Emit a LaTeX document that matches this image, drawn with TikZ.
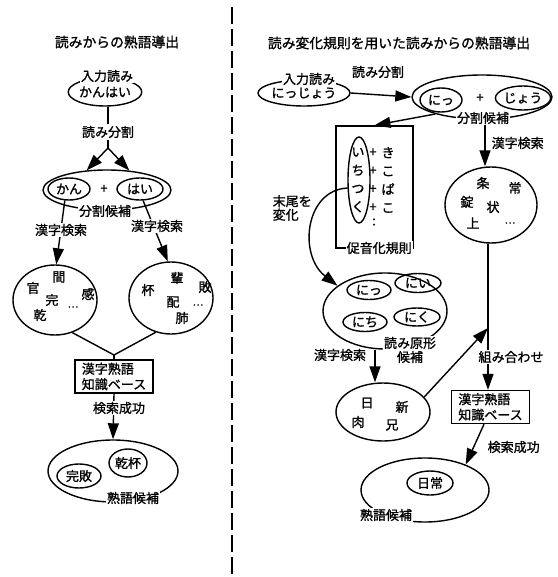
\documentclass[tikz,border=0pt]{standalone}
\usepackage{fontspec}
\newfontfamily\jp[FakeBold=1.2]{Noto Sans CJK JP}
\usetikzlibrary{shapes.geometric,arrows.meta}
\begin{document}
\begin{tikzpicture}[x=1pt,y=-1pt,line width=1.4pt,
  every node/.style={font=\jp\fontsize{13}{15}\selectfont, inner sep=1pt},
  ell/.style={draw, ellipse, inner sep=0pt},
  lbl/.style={fill=white, inner sep=1pt},
  ttl/.style={font=\jp\fontsize{13.8}{15}\selectfont},
  dotsty/.style={font=\jp\fontsize{10}{11}\selectfont, inner sep=0pt},
  kbox/.style={draw, rectangle, align=left, inner xsep=3pt, inner ysep=2pt, minimum width=78pt, minimum height=33pt, font=\jp\fontsize{13}{15.5}\selectfont},
  arr/.style={-{Triangle[length=16pt,width=11pt]}},
  stack/.style={align=center, font=\jp\fontsize{13}{18.3}\selectfont, inner sep=0pt},
  divider/.style={dash pattern=on 17pt off 5pt, line width=1.4pt}
]
\useasboundingbox (0,0) rectangle (557,577);

% ---------- divider ----------
\coordinate (d1) at (232,7);
\coordinate (d2) at (232,577);
\draw[divider] (d1) -- (d2);

% ================= LEFT =================
\node[ttl] (titleL) at (117,42) {読みからの熟語導出};

\node[ell, minimum width=68pt, minimum height=28pt] (inL) at (105,92) {かんはい};
\node (splitL) at (108,132) {読み分割};
\coordinate (forkL) at (108,148);

\node[ell, minimum width=128pt, minimum height=40pt] (candL) at (107,190) {};
\node[ell, minimum width=42pt, minimum height=22pt] (kan) at (69,189) {かん};
\node (plusL) at (104,189) {+};
\node[ell, minimum width=46pt, minimum height=22pt] (hai) at (140,189) {はい};

\node[ell, minimum width=84pt, minimum height=70pt] (kjL) at (55,300) {};
\node (kL1) at (59,277) {間};
\node (kL2) at (33,288) {官};
\node (kL3) at (52,300) {完};
\node (kL4) at (88,294) {感};
\node[dotsty] (kL5) at (73,307) {…};
\node (kL6) at (40,315) {乾};

\node[ell, minimum width=84pt, minimum height=72pt] (kjR) at (171,298) {};
\node (kR1) at (177,278) {輩};
\node (kR2) at (148,290) {杯};
\node (kR3) at (205,287) {敗};
\node (kR4) at (173,302) {配};
\node[dotsty] (kR5) at (198,305) {…};
\node (kR6) at (182,318) {肺};

\coordinate (joinL) at (114,355);
\node[kbox] (kbL) at (114,376.5) {漢字熟語\\知識ベース};

\node[ell, minimum width=130pt, minimum height=62pt] (finL) at (113,471) {};
\node[ell, minimum width=44pt, minimum height=24pt] (kanpai1) at (79,476) {完敗};
\node[ell, minimum width=38pt, minimum height=28pt] (kanpai2) at (128,463) {乾杯};

% connectors left
\draw (splitL.north) -- (splitL.north |- inL.south);
\draw (splitL.south) -- (forkL);
\draw[arr] (forkL) -- (candL.136);
\draw[arr] (forkL) -- (candL.41);
\draw[arr] (kan.250) -- (kjL.88);
\draw[arr] (hai.285) -- (kjR.95);
\draw (kjL.298) -- (joinL);
\draw (kjR.246) -- (joinL);
\draw (joinL) -- (kbL.north);
\draw[arr] (kbL.south) -- (finL.north);

% labels left
\node[lbl] (inLl) at (107,76) {入力読み};
\node[lbl] (candLl) at (105,211) {分割候補};
\node[lbl] (ksL1) at (61,230) {漢字検索};
\node[lbl] (ksL2) at (157,226) {漢字検索};
\node[lbl] (okL) at (119,408) {検索成功};
\node[lbl] (finLl) at (133,498) {熟語候補};

% ================= RIGHT =================
\node[ttl] (titleR) at (399,43) {読み変化規則を用いた読みからの熟語導出};

\node[ell, minimum width=92pt, minimum height=26pt] (inR) at (304,93) {にっじょう};
\node (splitR) at (378,72) {読み分割};

\node[ell, minimum width=140pt, minimum height=44pt] (splR) at (482,97) {};
\node[ell, minimum width=42pt, minimum height=24pt] (nitt) at (441,100) {にっ};
\node (plusR) at (480,98) {+};
\node[ell, minimum width=46pt, minimum height=24pt] (jou) at (523,98) {じょう};

% rule box
\node[draw, rectangle, minimum width=77pt, minimum height=122pt, inner sep=0pt] (ruleR) at (374.5,187) {};
\node[ell, minimum width=22pt, minimum height=86pt] (tallE) at (359,180) {};
\node[stack] (colA) at (358,180) {い\\ち\\つ\\く};
\node[stack] (colP) at (373,180) {+\\+\\+\\+};
\node[stack] (colB) at (388,180) {き\\こ\\ぱ\\こ};
\node (dots) at (374,222) {:};

% right kanji ellipse
\node[ell, minimum width=92pt, minimum height=76pt] (kr) at (491,205) {};
\node (r1) at (483,183) {条};
\node (r2) at (515,188) {常};
\node (r3) at (467,202) {錠};
\node (r4) at (493,207) {状};
\node (r5) at (473,223) {上};
\node[dotsty] (r6) at (510,223) {…};

% reading candidates
\node[ell, minimum width=124pt, minimum height=76pt] (rdg) at (385,311) {};
\node[ell, minimum width=44pt, minimum height=19pt] (n1) at (369,290) {にっ};
\node[ell, minimum width=46pt, minimum height=19pt] (n2) at (418,283) {にい};
\node[ell, minimum width=44pt, minimum height=19pt] (n3) at (365,322) {にち};
\node[ell, minimum width=46pt, minimum height=18pt] (n4) at (417,317) {にく};

% kanji from readings
\node[ell, minimum width=94pt, minimum height=58pt] (nk) at (383,412) {};
\node (m1) at (367,403) {日};
\node (m2) at (402,407) {新};
\node (m3) at (358,422) {肉};
\node (m4) at (392,425) {兄};

\coordinate (cm) at (488,328);
\node[kbox] (kbR) at (490.5,407) {漢字熟語\\知識ベース};

\node[ell, minimum width=128pt, minimum height=64pt] (finR) at (425,490) {};
\node[ell, minimum width=46pt, minimum height=24pt] (nichijo) at (430,483) {日常};

% connectors right
\draw[arr] (inR.east) -- (splR.west);
\draw[arr] (splR.200) -- (ruleR.north);
\draw[arr] (splR.south -| 485,0) -- (kr.north -| 485,0);
\draw[arr] (tallE.215) .. controls (305,190) and (298,255) .. (rdg.152);
\draw[arr] (rdg.south -| 375,0) -- (nk.north -| 375,0);
\draw[arr] (nk.20) -- (cm);
\draw (kr.south -| cm) -- (cm);
\draw[arr] (cm) -- (kbR.north -| cm);
\draw[arr] (kbR.south -| 484,0) -- (finR.32);

% labels right
\node[lbl] (inRl) at (309,79) {入力読み};
\node[lbl] (splRl) at (483,118) {分割候補};
\node[lbl, anchor=west] (ksR1) at (490,143) {漢字検索};
\node[lbl, anchor=west] (ruleRl) at (345,248) {促音化規則};
\node[align=left, anchor=west, font=\jp\fontsize{13}{13.5}\selectfont] (chg) at (271,208) {末尾を\\変化};
\node[lbl, align=center, font=\jp\fontsize{13}{14}\selectfont] (rdgl) at (410,350) {読み原形\\候補};
\node[lbl] (ksR2) at (340,355) {漢字検索};
\node[lbl] (comb) at (511,357) {組み合わせ};
\node[lbl, anchor=west] (okR) at (486,447) {検索成功};
\node[lbl] (finRl) at (386,515) {熟語候補};
\end{tikzpicture}
\end{document}
